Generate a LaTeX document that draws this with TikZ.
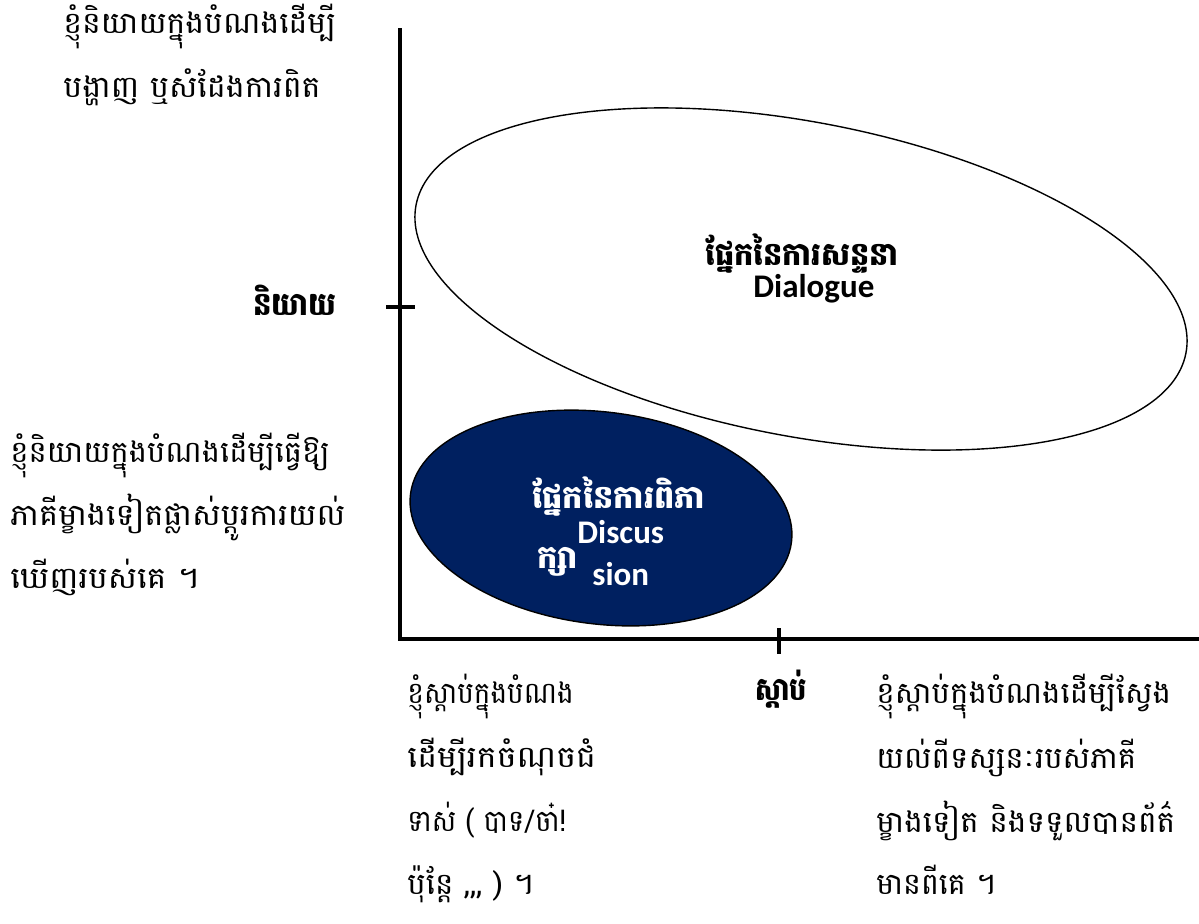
\documentclass[tikz,border=0pt]{standalone}
\usepackage{fontspec}
\usetikzlibrary{shapes.geometric}
\newfontfamily\kh[Script=Khmer]{Battambang}
\newfontfamily\lat{Carlito}
\definecolor{navy}{HTML}{002060}
\tikzset{
  axisline/.style={line width=2.3pt},
  body/.style={font=\kh\fontsize{15}{17}\selectfont, anchor=base west, inner sep=0pt},
  axlabel/.style={font=\kh\bfseries\fontsize{16}{18}\selectfont, anchor=base west, inner sep=0pt},
  elab/.style={font=\kh\bfseries\fontsize{16}{18}\selectfont, anchor=base west, inner sep=0pt},
  elat/.style={font=\lat\bfseries\fontsize{16.5}{18}\selectfont, anchor=base west, inner sep=0pt},
  region/.style={ellipse, draw=black, line width=0.7pt, inner sep=0pt},
}
\begin{document}
\begin{tikzpicture}[x=0.5pt,y=-0.5pt]
\useasboundingbox (0,0) rectangle (1199,923);
% axes
\coordinate (otop) at (400,28);
\coordinate (orig) at (400,639);
\coordinate (xend) at (1199,639);
\draw[axisline] (otop) -- (400,641.2);
\draw[axisline] (398.8,639) -- (xend);
\coordinate (yt1) at (386,307);
\coordinate (yt2) at (415,307);
\draw[axisline] (yt1) -- (yt2);
\coordinate (xt1) at (779,628);
\coordinate (xt2) at (779,654);
\draw[axisline] (xt1) -- (xt2);
% regions
\node[region, fill=white, minimum width=392pt, minimum height=157pt, rotate=-10.9] (dlg) at (801,279) {};
\node[region, fill=navy, minimum width=192pt, minimum height=106pt, rotate=-7.2] (dis) at (601,518) {};
% region labels
\node[elab, xscale=0.95] (dlgkh) at (705,265) {ផ្នែកនៃការសន្ទនា};
\node[elat] (dlgen) at (753,297) {Dialogue};
\node[elab, text=white] (diskh1) at (532,508) {ផ្នែកនៃការពិភា};
\node[elab, text=white] (diskh2) at (537,568) {ក្សា};
\node[elat, text=white] (disen1) at (577,543) {Discus};
\node[elat, text=white] (disen2) at (592,585) {sion};
% axis labels
\node[axlabel, xscale=0.91] (ylab) at (253,315) {និយាយ};
\node[axlabel, xscale=0.85] (xlab) at (755,700) {ស្តាប់};
% top-left text
\node[body, xscale=1.05] (t1) at (63,33) {ខ្ញុំនិយាយក្នុងបំណងដើម្បី};
\node[body, xscale=1.06] (t2) at (63,97) {បង្ហាញ ឬសំដែងការពិត};
% left text
\node[body, xscale=1.02] (l1) at (10,462) {ខ្ញុំនិយាយក្នុងបំណងដើម្បីធ្វើឱ្យ};
\node[body, xscale=1.07] (l2) at (10,525) {ភាគីម្ខាងទៀតផ្លាស់ប្តូរការយល់};
\node[body, xscale=1.09] (l3) at (10,588) {ឃើញរបស់គេ ។};
% bottom-left text
\node[body, xscale=0.93] (b1) at (407,703) {ខ្ញុំស្តាប់ក្នុងបំណង};
\node[body, xscale=1.11] (b2) at (407,767) {ដើម្បីរកចំណុចជំ};
\node[body, xscale=0.91] (b3) at (407,831) {ទាស់ ( បាទ/ចា៎!};
\node[body, xscale=1.03] (b4) at (407,894) {ប៉ុន្តែ ,\kern0pt,\kern0pt, ) ។};
% bottom-right text
\node[body, xscale=1.03] (r1) at (876,703) {ខ្ញុំស្តាប់ក្នុងបំណងដើម្បីស្វែង};
\node[body, xscale=1.03] (r2) at (876,768) {យល់ពីទស្សនៈរបស់ភាគី};
\node[body, xscale=1.04] (r3) at (876,832) {ម្ខាងទៀត និងទទួលបានព័ត៌};
\node[body] (r4) at (876,894) {មានពីគេ ។};
\end{tikzpicture}
\end{document}
